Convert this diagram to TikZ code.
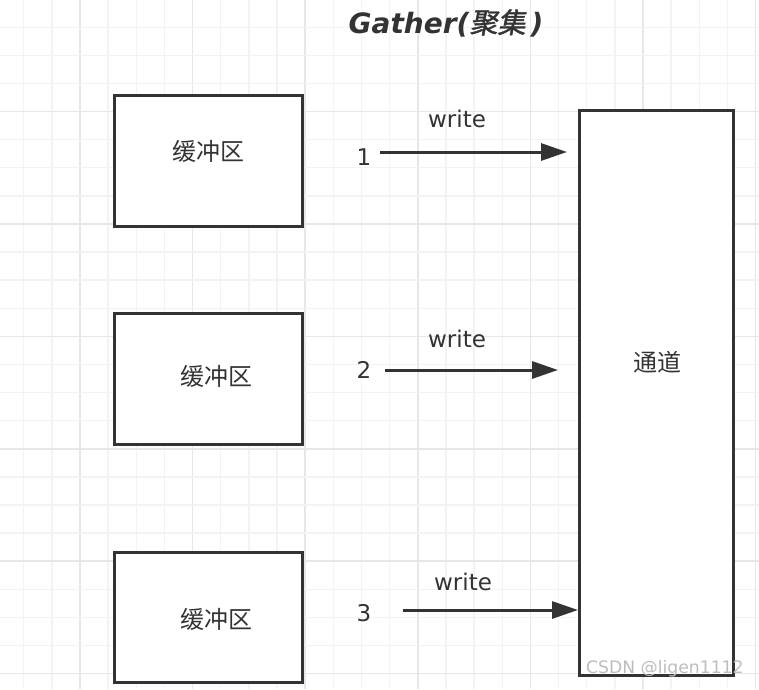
\documentclass[tikz,border=0pt]{standalone}
\usepackage{fontspec}
\setmainfont{DejaVu Sans}
\newfontfamily\cjk{Noto Sans CJK SC}
\newfontfamily\cjkt{Noto Sans CJK SC}[FakeBold=1.5,FakeSlant=0.2]
\usetikzlibrary{arrows.meta}
\definecolor{ink}{HTML}{333333}
\definecolor{gridminor}{HTML}{F3F3F3}
\definecolor{gridmajor}{HTML}{E7E7E7}
\definecolor{wm}{HTML}{BDBDBD}
\begin{document}
\begin{tikzpicture}[x=1pt,y=-1pt,
  box/.style={draw=ink, line width=3pt, fill=white, inner sep=0pt, outer sep=0pt, anchor=north west},
  cn/.style={font=\cjk\fontsize{24}{24}\selectfont, text=ink, inner sep=0pt},
  lat/.style={font=\fontsize{23}{23}\selectfont, text=ink, inner sep=0pt, anchor=base},
  wr/.style={draw=ink, line width=3pt, -{Triangle[length=26pt,width=17pt]}}]
\useasboundingbox[fill=white] (0,0) rectangle (759,689);
% grid
\foreach \k in {-2,...,24}{
  \pgfmathsetmacro{\xx}{80+28.15*\k}
  \pgfmathtruncatemacro{\m}{mod(\k+8,4)}
  \ifnum\m=0
    \draw[gridmajor, line width=1.6pt] (\xx,0) -- (\xx,689);
  \else
    \draw[gridminor, line width=1.4pt] (\xx,0) -- (\xx,689);
  \fi
}
\foreach \k in {-3,...,20}{
  \pgfmathsetmacro{\yy}{111.5+28.1*\k}
  \pgfmathtruncatemacro{\m}{mod(\k+8,4)}
  \ifnum\m=0
    \draw[gridmajor, line width=1.6pt] (0,\yy) -- (759,\yy);
  \else
    \draw[gridminor, line width=1.4pt] (0,\yy) -- (759,\yy);
  \fi
}
% title
\node[anchor=base, text=ink, inner sep=0pt] (title) at (446,33)
  {\fontsize{28}{28}\selectfont{\bfseries\itshape Gather(}{\cjkt 聚集}\kern5pt{\bfseries\itshape )}};
% buffers
\node[box, minimum width=188pt, minimum height=131pt] (b1) at (114,95) {};
\node[box, minimum width=188pt, minimum height=131pt] (b2) at (114,313) {};
\node[box, minimum width=188pt, minimum height=130pt] (b3) at (114,552) {};
\node[cn] (t1) at (208,151) {缓冲区};
\node[cn] (t2) at (216,376) {缓冲区};
\node[cn] (t3) at (216,619) {缓冲区};
% channel
\node[box, minimum width=154pt, minimum height=565pt] (ch) at (579,110) {};
\node[cn] (tc) at (657,362) {通道};
% arrows
\coordinate (s1) at (380,152);
\coordinate (e1) at (567,152);
\coordinate (s2) at (385,370);
\coordinate (e2) at (558,370);
\coordinate (s3) at (403,610);
\coordinate (e3) at (578,610);
\draw[wr] (s1) -- (e1);
\draw[wr] (s2) -- (e2);
\draw[wr] (s3) -- (e3);
\node[lat] (n1) at (364,165) {1};
\node[lat] (n2) at (364,378) {2};
\node[lat] (n3) at (364,621) {3};
\node[lat] (w1) at (457,127) {write};
\node[lat] (w2) at (457,347) {write};
\node[lat] (w3) at (463,590) {write};
% watermark
\node[anchor=base west, inner sep=0pt, text=wm, font=\fontsize{17.2}{17.2}\selectfont] (wmk) at (586,673) {CSDN @ligen1112};
\end{tikzpicture}
\end{document}
